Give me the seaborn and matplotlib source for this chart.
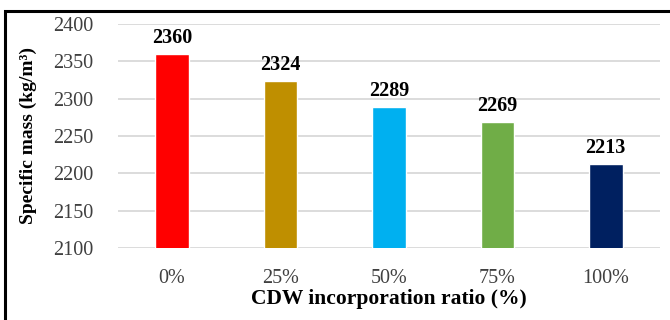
import matplotlib
matplotlib.use("Agg")
import matplotlib.pyplot as plt
import seaborn as sns
import pandas as pd
from matplotlib.patches import Rectangle

ratios = ["0%", "25%", "50%", "75%", "100%"]
specific_mass = [2360, 2324, 2289, 2269, 2213]
bar_colors = ["#FF0000", "#BF8F00", "#00B0F0", "#70AD47", "#002060"]
y_ticks = [2100, 2150, 2200, 2250, 2300, 2350, 2400]

df = pd.DataFrame({"ratio": ratios, "mass": specific_mass})

sns.set_theme(style="white")
plt.rcParams["font.family"] = ["Liberation Serif", "DejaVu Serif"]

fig = plt.figure(figsize=(6.7, 3.2), dpi=100)
ax = fig.add_axes([0.176, 0.225, 0.809, 0.70])

sns.barplot(data=df, x="ratio", y="mass", hue="ratio", palette=bar_colors,
            order=ratios, hue_order=ratios, width=0.31, legend=False,
            saturation=1, ax=ax, zorder=3)

ax.set_ylim(2100, 2400)
ax.set_yticks(y_ticks)
ax.yaxis.grid(True, color="#D9D9D9", linewidth=1.3, zorder=0)
ax.set_axisbelow(True)
for s in ax.spines.values():
    s.set_visible(False)
ax.tick_params(axis="both", length=0, colors="#404040", labelsize=14.5)
ax.tick_params(axis="y", pad=18)
ax.tick_params(axis="x", pad=15)

for i, v in enumerate(specific_mass):
    ax.text(i, v + 8, f"{v}", ha="center", va="bottom", fontsize=14.5,
            fontweight="bold", color="#000000")

ax.set_xlabel("CDW incorporation ratio (%)", fontsize=15.5, fontweight="bold",
              color="#000000", labelpad=1)
ax.set_ylabel("Specific mass (kg/m\u00b3)", fontsize=14, fontweight="bold",
              color="#000000", labelpad=11)

# frame around the chart area
fig.patches.append(Rectangle((0.0075, -0.05), 1.05, 1.017, transform=fig.transFigure,
                             fill=False, edgecolor="black", linewidth=2.2))

fig.savefig("out.png", dpi=100)
